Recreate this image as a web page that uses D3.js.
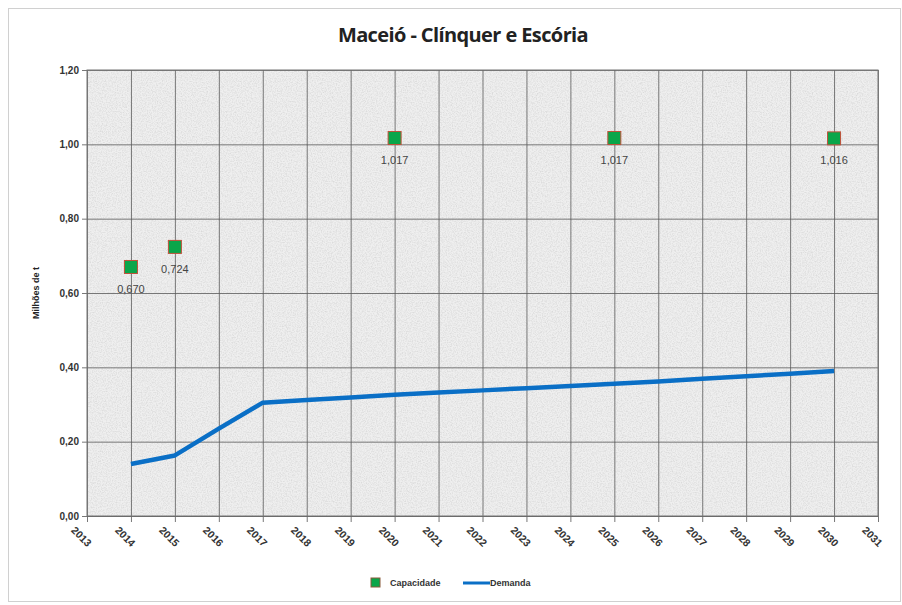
<!DOCTYPE html>
<html>
<head>
<meta charset="utf-8">
<script src="https://cdn.jsdelivr.net/npm/d3@7"></script>
<style>
  body { margin: 0; background: #fff; }
  #container { width: 902px; height: 605px; }
</style>
</head>
<body>
<div id="container"></div>
<script>
// dados
const years = d3.range(2013, 2032);
const demandYears = [2014, 2015, 2016, 2017, 2018, 2019, 2020, 2021, 2022, 2023, 2024, 2025, 2026, 2027, 2028, 2029, 2030];
const demandValues = [0.140, 0.163, 0.235, 0.305, 0.312, 0.319, 0.326, 0.332, 0.338, 0.344, 0.350, 0.356, 0.362, 0.369, 0.376, 0.383, 0.390];
const capYears = [2014, 2015, 2020, 2025, 2030];
const capValues = [0.670, 0.724, 1.017, 1.017, 1.016];
const capLabels = ["0,670", "0,724", "1,017", "1,017", "1,016"];
const yTicks = [0, 0.2, 0.4, 0.6, 0.8, 1.0, 1.2];

const width = 902, height = 605;
const marginTop = 70, marginRight = 24, marginBottom = 89, marginLeft = 87;

const svg = d3.select("#container").append("svg")
  .attr("width", width)
  .attr("height", height)
  .attr("viewBox", [0, 0, width, height])
  .attr("font-family", "Liberation Sans, Arial, sans-serif");

// textura do fundo
const defs = svg.append("defs");
const filter = defs.append("filter").attr("id", "grain").attr("x", 0).attr("y", 0).attr("width", "100%").attr("height", "100%");
filter.append("feTurbulence").attr("type", "fractalNoise").attr("baseFrequency", 0.8).attr("numOctaves", 2).attr("seed", 3).attr("result", "noise");
filter.append("feColorMatrix").attr("in", "noise").attr("type", "matrix")
  .attr("values", "0 0 0 0 0.6  0 0 0 0 0.6  0 0 0 0 0.6  0 0 0 -1.2 0.75")
  .attr("result", "speck");
filter.append("feComposite").attr("in", "speck").attr("in2", "SourceGraphic").attr("operator", "in");

// moldura externa
svg.append("rect")
  .attr("x", 8.5).attr("y", 8.5)
  .attr("width", width - 10).attr("height", height - 12)
  .attr("fill", "#fff").attr("stroke", "#d0d0d0");

const xScale = d3.scaleLinear([2013, 2031], [marginLeft, width - marginRight]);
const yScale = d3.scaleLinear([0, 1.2], [height - marginBottom, marginTop]);

// área do gráfico
const plotW = xScale(2031) - xScale(2013), plotH = yScale(0) - yScale(1.2);
svg.append("rect")
  .attr("x", xScale(2013)).attr("y", yScale(1.2))
  .attr("width", plotW).attr("height", plotH)
  .attr("fill", "#efefef");
svg.append("rect")
  .attr("x", xScale(2013)).attr("y", yScale(1.2))
  .attr("width", plotW).attr("height", plotH)
  .attr("fill", "#efefef")
  .attr("filter", "url(#grain)");

// eixo X
const xAxis = d3.axisBottom(xScale).tickValues(years).tickFormat(d3.format("d")).tickSize(6).tickSizeOuter(0);
svg.append("g")
  .attr("transform", `translate(0, ${yScale(0)})`)
  .call(xAxis)
  .call((g) => g.select(".domain").attr("stroke", "#777"))
  .call((g) => g.selectAll(".tick line").attr("stroke", "#777"))
  .call((g) =>
    g.selectAll(".tick line")
      .clone()
      .attr("y1", 0)
      .attr("y2", -plotH)
      .attr("stroke", "#5a5a5a")
      .attr("stroke-opacity", 0.8)
  )
  .call((g) =>
    g.selectAll(".tick text")
      .attr("font-size", 10.5)
      .attr("font-weight", "bold")
      .attr("fill", "#333")
      .attr("text-anchor", "start")
      .attr("transform", "translate(-8, 6) rotate(45)")
      .attr("dy", "0.35em")
  );

// eixo Y
const yAxis = d3.axisLeft(yScale).tickValues(yTicks).tickFormat((d) => d3.format(".2f")(d).replace(".", ",")).tickSize(5).tickSizeOuter(0);
svg.append("g")
  .attr("transform", `translate(${marginLeft}, 0)`)
  .call(yAxis)
  .call((g) => g.select(".domain").attr("stroke", "#777"))
  .call((g) => g.selectAll(".tick line").attr("stroke", "#777"))
  .call((g) =>
    g.selectAll(".tick line")
      .clone()
      .attr("x1", 0)
      .attr("x2", plotW)
      .attr("stroke", "#5a5a5a")
      .attr("stroke-opacity", 0.8)
  )
  .call((g) =>
    g.selectAll(".tick text")
      .attr("font-size", 10)
      .attr("font-weight", "bold")
      .attr("fill", "#333")
      .attr("x", -8)
  );

// borda da área
svg.append("rect")
  .attr("x", xScale(2013)).attr("y", yScale(1.2))
  .attr("width", plotW).attr("height", plotH)
  .attr("fill", "none").attr("stroke", "#777");

// título e rótulo do eixo
svg.append("text")
  .attr("x", 463).attr("y", 42)
  .attr("text-anchor", "middle")
  .attr("font-size", 20)
  .attr("font-weight", "bold")
  .attr("fill", "#222")
  .attr("font-family", "Open Sans, sans-serif")
  .attr("letter-spacing", -0.6)
  .text("Maceió - Clínquer e Escória");

svg.append("text")
  .attr("transform", `translate(39, ${yScale(0.6)}) rotate(-90)`)
  .attr("text-anchor", "middle")
  .attr("font-size", 9)
  .attr("font-weight", "bold")
  .attr("fill", "#222")
  .text("Milhões de t");

// linha de demanda
const line = d3.line()
  .x((d, i) => xScale(demandYears[i]))
  .y((d) => yScale(d));

svg.append("path")
  .datum(demandValues)
  .attr("fill", "none")
  .attr("stroke", "#0a6fc6")
  .attr("stroke-width", 4.5)
  .attr("stroke-linejoin", "round")
  .attr("d", line);

// pontos de capacidade
const s = 13;
svg.append("g")
  .selectAll("rect")
  .data(capValues)
  .join("rect")
  .attr("x", (d, i) => xScale(capYears[i]) - s / 2)
  .attr("y", (d) => yScale(d) - s / 2)
  .attr("width", s).attr("height", s)
  .attr("fill", "#0aa64a")
  .attr("stroke", "#c0503a")
  .attr("stroke-width", 1);

svg.append("g")
  .selectAll("text")
  .data(capValues)
  .join("text")
  .attr("x", (d, i) => xScale(capYears[i]))
  .attr("y", (d) => yScale(d) + 26)
  .attr("text-anchor", "middle")
  .attr("font-size", 11)
  .attr("fill", "#444")
  .text((d, i) => capLabels[i]);

// legenda
const legend = svg.append("g").attr("font-size", 9).attr("font-weight", "bold").attr("fill", "#333");
legend.append("rect")
  .attr("x", 371).attr("y", 578).attr("width", 9).attr("height", 9)
  .attr("fill", "#0aa64a").attr("stroke", "#8a5a3a");
legend.append("text").attr("x", 390).attr("y", 586).text("Capacidade");
legend.append("line")
  .attr("x1", 463).attr("x2", 490).attr("y1", 583).attr("y2", 583)
  .attr("stroke", "#0a6fc6").attr("stroke-width", 3);
legend.append("text").attr("x", 490).attr("y", 586).text("Demanda");
</script>
</body>
</html>
